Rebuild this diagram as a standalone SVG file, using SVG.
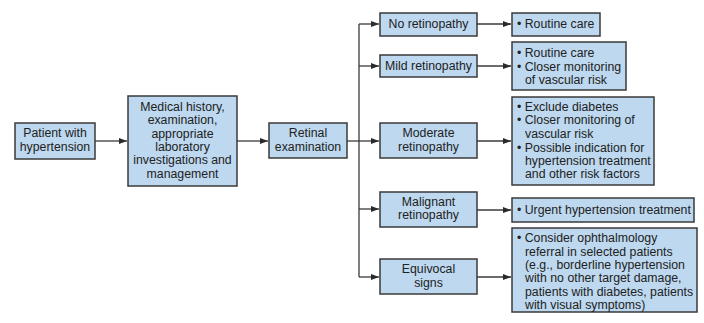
<svg xmlns="http://www.w3.org/2000/svg" width="704" height="323" viewBox="0 0 704 323">
<style>
.box{fill:#bdd8ef;stroke:#3a3a3a;stroke-width:1.5}
.t{font-family:"Liberation Sans",Arial,sans-serif;font-size:12.3px;fill:#222}
.c{text-anchor:middle}
.ln{fill:none;stroke:#3a3a3a;stroke-width:1.3}
</style>
<defs>
<marker id="ah" markerWidth="8" markerHeight="6" refX="8" refY="3" orient="auto" markerUnits="userSpaceOnUse">
<path d="M0,0 L8,3 L0,6 Z" fill="#2a2a2a"/>
</marker>
</defs>
<rect width="704" height="323" fill="#fff"/>
<g id="connectors">
<path class="ln" d="M95,141 H127" marker-end="url(#ah)"/>
<path class="ln" d="M237,141 H268" marker-end="url(#ah)"/>
<path class="ln" d="M347,141 H359"/>
<path class="ln" d="M359,24 V277"/>
<path class="ln" d="M359,24 H379" marker-end="url(#ah)"/>
<path class="ln" d="M359,66 H379" marker-end="url(#ah)"/>
<path class="ln" d="M359,141 H379" marker-end="url(#ah)"/>
<path class="ln" d="M359,209 H379" marker-end="url(#ah)"/>
<path class="ln" d="M359,277 H379" marker-end="url(#ah)"/>
<path class="ln" d="M477,24 H511" marker-end="url(#ah)"/>
<path class="ln" d="M477,66 H511" marker-end="url(#ah)"/>
<path class="ln" d="M477,141 H511" marker-end="url(#ah)"/>
<path class="ln" d="M477,210 H511" marker-end="url(#ah)"/>
<path class="ln" d="M477,277 H511" marker-end="url(#ah)"/>
</g>
<g id="patient">
<rect class="box" x="15" y="123" width="80" height="36"/>
<text class="t c" x="55"><tspan x="55" y="137">Patient with</tspan><tspan x="55" y="151">hypertension</tspan></text>
</g>
<g id="history">
<rect class="box" x="128" y="96" width="109" height="90"/>
<text class="t c"><tspan x="182.5" y="111">Medical history,</tspan><tspan x="182.5" y="124">examination,</tspan><tspan x="182.5" y="138">appropriate</tspan><tspan x="182.5" y="151">laboratory</tspan><tspan x="182.5" y="164">investigations and</tspan><tspan x="182.5" y="178">management</tspan></text>
</g>
<g id="retinal">
<rect class="box" x="269" y="123" width="78" height="35"/>
<text class="t c"><tspan x="308" y="137">Retinal</tspan><tspan x="308" y="151">examination</tspan></text>
</g>
<g id="no-retinopathy">
<rect class="box" x="380" y="13" width="97" height="23"/>
<text class="t c" x="428.5" y="28">No retinopathy</text>
</g>
<g id="mild-retinopathy">
<rect class="box" x="380" y="55" width="97" height="22"/>
<text class="t c" x="428.5" y="70">Mild retinopathy</text>
</g>
<g id="moderate-retinopathy">
<rect class="box" x="380" y="123" width="97" height="35"/>
<text class="t c"><tspan x="428.5" y="137">Moderate</tspan><tspan x="428.5" y="151">retinopathy</tspan></text>
</g>
<g id="malignant-retinopathy">
<rect class="box" x="380" y="192" width="97" height="35"/>
<text class="t c"><tspan x="428.5" y="206">Malignant</tspan><tspan x="428.5" y="219">retinopathy</tspan></text>
</g>
<g id="equivocal-signs">
<rect class="box" x="380" y="259" width="97" height="35"/>
<text class="t c"><tspan x="428.5" y="273">Equivocal</tspan><tspan x="428.5" y="287">signs</tspan></text>
</g>
<g id="routine-care">
<rect class="box" x="512" y="13" width="88" height="23"/>
<text class="t" x="517" y="28">• Routine care</text>
</g>
<g id="mild-actions">
<rect class="box" x="512" y="42" width="114" height="48"/>
<text class="t"><tspan x="517" y="57">• Routine care</tspan><tspan x="517" y="71">• Closer monitoring</tspan><tspan x="525" y="84">of vascular risk</tspan></text>
</g>
<g id="moderate-actions">
<rect class="box" x="512" y="97" width="142" height="88"/>
<text class="t"><tspan x="517" y="111">• Exclude diabetes</tspan><tspan x="517" y="124">• Closer monitoring of</tspan><tspan x="525" y="138">vascular risk</tspan><tspan x="517" y="152">• Possible indication for</tspan><tspan x="525" y="165">hypertension treatment</tspan><tspan x="525" y="178">and other risk factors</tspan></text>
</g>
<g id="malignant-actions">
<rect class="box" x="512" y="198" width="182" height="24"/>
<text class="t" x="517" y="214">• Urgent hypertension treatment</text>
</g>
<g id="equivocal-actions">
<rect class="box" x="512" y="228" width="185" height="84"/>
<text class="t"><tspan x="517" y="242">• Consider ophthalmology</tspan><tspan x="525" y="256">referral in selected patients</tspan><tspan x="525" y="269">(e.g., borderline hypertension</tspan><tspan x="525" y="282">with no other target damage,</tspan><tspan x="525" y="296">patients with diabetes, patients</tspan><tspan x="525" y="309">with visual symptoms)</tspan></text>
</g>
</svg>
